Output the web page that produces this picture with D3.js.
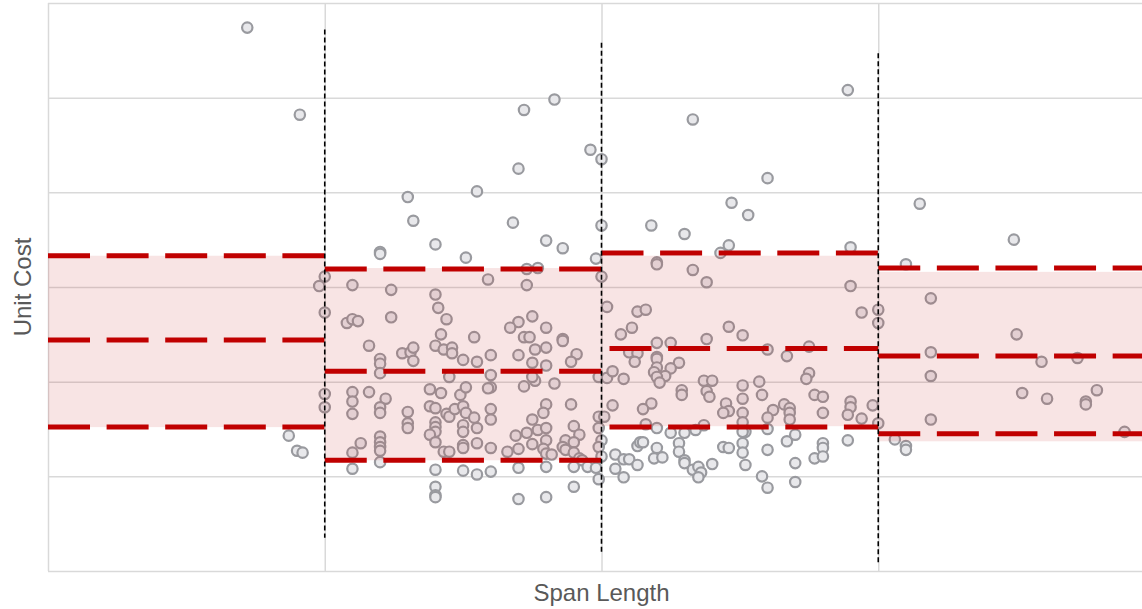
<!DOCTYPE html>
<html>
<head>
<meta charset="utf-8">
<script src="https://cdn.jsdelivr.net/npm/d3@7"></script>
<style>
  body { margin: 0; background: #fff; }
  svg { display: block; }
  .grid line { stroke: #d9d9d9; stroke-width: 1.5; }
  .grid .domain { display: none; }
  .axis-title { font-family: "Liberation Sans", Arial, sans-serif; fill: #595959; font-size: 24px; }
</style>
</head>
<body>
<svg id="chart" width="1142" height="609"></svg>
<script>
/* =========================
   DATA
========================= */
const xTicks = [0, 100, 200, 300, 400];
const yTicks = [0, 100, 200, 300, 400, 500, 600];

// span segments and their cost bands
const segStart = [0, 100, 200, 300];
const segEnd = [100, 200, 300, 400];
const upperLine = [333, 319, 336, 320];
const midLine = [244, 211, 235, 227];
const lowerLine = [152, 117, 152, 145];
const bandTop = [333, 320, 333, 316];
const bandBottom = [152, 117, 153, 137];

// segment break markers
const breakX = [100, 200, 300];
const breakTop = [572, 558, 547];
const breakBottom = [35, 18, 9];

// [span length, unit cost]
const seg1Points = [
  [72, 574], [91, 482], [87, 143], [90, 127], [92, 125], [98, 301],
  [100, 311], [100, 273], [100, 187], [100, 173]
];

const seg2Points = [
  [130, 395], [132, 370], [155, 401], [168, 368], [170, 425], [172, 487],
  [183, 498], [196, 445], [200, 435], [200, 365],
  [120, 337], [120, 335], [140, 345], [151, 331], [110, 302], [124, 297],
  [140, 292], [141, 278], [144, 266], [124, 268], [108, 262], [110, 266],
  [112, 264], [142, 250], [140, 238], [143, 234], [146, 236], [146, 230],
  [116, 238], [128, 230], [131, 231], [132, 236], [132, 222], [120, 224],
  [120, 219], [120, 209], [145, 205], [150, 223], [138, 192], [142, 188],
  [149, 186], [151, 194], [110, 189], [110, 179], [110, 166], [116, 189],
  [122, 182], [120, 173], [120, 167], [130, 168], [130, 156], [130, 151],
  [138, 174], [140, 172], [144, 166], [145, 163], [147, 171], [150, 174],
  [151, 167], [140, 157], [140, 152], [140, 147], [138, 144], [140, 136],
  [150, 154], [150, 147], [150, 133], [150, 130], [120, 142], [120, 136],
  [120, 131], [120, 127], [113, 135], [110, 125], [143, 126], [145, 126],
  [120, 115], [110, 108], [140, 107], [150, 106], [140, 89], [140, 80],
  [140, 78],
  [180, 349], [186, 341], [198, 330], [200, 311], [173, 319], [177, 320],
  [159, 308], [173, 302], [175, 269], [170, 263], [167, 257], [180, 257],
  [172, 247], [174, 247], [186, 245], [186, 243], [154, 247], [176, 234],
  [180, 236], [170, 228], [175, 220], [180, 217], [160, 228], [155, 221],
  [191, 229], [189, 221], [160, 207], [160, 194], [159, 193], [172, 195],
  [176, 201], [175, 205], [183, 198], [199, 205], [202, 204], [189, 176],
  [180, 176], [179, 167], [175, 160], [160, 171], [160, 160], [154, 162],
  [155, 151], [155, 135], [160, 130], [166, 126], [170, 129], [169, 143],
  [173, 146], [175, 134], [177, 149], [180, 151], [180, 138], [179, 129],
  [180, 124], [182, 123], [187, 138], [190, 153], [192, 144], [190, 136],
  [186, 131], [187, 128], [190, 125], [192, 119], [193, 117], [195, 110],
  [198, 109], [199, 163], [199, 151], [200, 138], [199, 131], [200, 121],
  [199, 97], [155, 102], [160, 105], [170, 109], [180, 110], [190, 110],
  [190, 89], [170, 76], [180, 78]
];

const seg3Points = [
  [220, 326], [220, 324], [233, 318], [238, 305], [246, 344], [243, 336],
  [202, 279], [213, 274], [216, 276], [207, 250], [211, 257], [210, 231],
  [213, 230], [212, 221], [220, 241], [225, 241], [238, 245], [246, 258],
  [220, 226], [220, 224], [220, 215], [228, 220], [225, 214], [223, 206],
  [219, 210], [220, 205], [221, 199], [204, 211], [208, 203], [237, 201],
  [240, 201], [229, 191], [229, 186], [238, 190], [239, 184], [204, 175],
  [218, 177], [215, 171], [245, 177], [246, 169], [244, 167], [201, 163],
  [216, 155], [220, 151], [225, 146], [230, 146], [234, 149], [237, 154],
  [213, 132], [214, 136], [215, 136], [228, 135], [220, 130], [228, 126],
  [244, 131], [246, 130], [205, 123], [208, 118], [210, 118], [219, 119],
  [222, 120], [230, 117], [230, 114], [213, 112], [205, 108], [208, 99],
  [233, 107], [235, 110], [236, 104], [235, 99], [240, 113],
  [218, 365], [230, 356], [233, 477], [247, 389], [253, 376], [260, 415],
  [289, 508],
  [290, 342], [290, 301], [294, 273], [300, 276], [300, 262], [251, 249],
  [260, 234], [267, 227], [275, 237], [275, 209], [274, 203], [257, 200],
  [258, 186], [251, 196], [251, 182], [251, 167], [251, 157], [262, 170],
  [266, 176], [268, 172], [268, 167], [268, 160], [260, 162], [277, 186],
  [280, 184], [280, 167], [290, 179], [290, 173], [289, 165], [294, 161],
  [298, 175], [300, 156], [260, 150], [252, 147], [251, 147], [251, 135],
  [251, 125], [252, 112], [260, 128], [267, 137], [270, 144], [270, 114],
  [270, 94], [258, 100], [260, 88], [277, 119], [280, 135], [280, 130],
  [280, 121], [289, 138]
];

const seg4Points = [
  [310, 324], [315, 388], [349, 350], [319, 288], [319, 231], [319, 206],
  [319, 160], [350, 250], [359, 221], [372, 225], [352, 188], [361, 182],
  [375, 179], [375, 176], [379, 191], [389, 147], [306, 139], [310, 132],
  [310, 128]
];

/* =========================
   SETUP
========================= */
const svg = d3.select("#chart");

const x = d3.scaleLinear().domain([0, 400]).range([48, 1155]);
const y = d3.scaleLinear().domain([0, 600]).range([571, 3]);

const plotTop = y(600);
const plotBottom = y(0);

/* ===== GRID ===== */
svg.append("g")
  .attr("class", "grid")
  .attr("transform", `translate(0,${plotBottom})`)
  .call(d3.axisBottom(x).tickValues(xTicks).tickSize(-(plotBottom - plotTop)).tickFormat(""));

svg.append("g")
  .attr("class", "grid")
  .attr("transform", `translate(${x(0)},0)`)
  .call(d3.axisLeft(y).tickValues(yTicks).tickSize(-(x(400) - x(0))).tickFormat(""));

/* ===== POINTS ===== */
const allPoints = seg1Points.concat(seg2Points, seg3Points, seg4Points);

svg.append("g")
  .selectAll("circle")
  .data(allPoints)
  .join("circle")
  .attr("cx", (d) => x(d[0]))
  .attr("cy", (d) => y(d[1]))
  .attr("r", 5.2)
  .attr("fill", "#e8e8eb")
  .attr("stroke", "#999a9f")
  .attr("stroke-width", 2.2);

/* ===== BANDS (drawn over the points) ===== */
svg.append("g")
  .selectAll("rect")
  .data(segStart)
  .join("rect")
  .attr("x", (d) => x(d))
  .attr("width", (d, i) => x(segEnd[i]) - x(d))
  .attr("y", (d, i) => y(bandTop[i]))
  .attr("height", (d, i) => y(bandBottom[i]) - y(bandTop[i]))
  .attr("fill", "rgb(200,30,30)")
  .attr("fill-opacity", 0.12);

/* ===== DASHED LEVEL LINES ===== */
const levels = [upperLine, midLine, lowerLine];
const dashPeriod = 58.6;

levels.forEach((level, li) => {
  svg.append("g")
    .selectAll("line")
    .data(segStart)
    .join("line")
    .attr("x1", (d) => x(d))
    .attr("x2", (d, i) => x(segEnd[i]))
    .attr("y1", (d, i) => y(level[i]))
    .attr("y2", (d, i) => y(level[i]))
    .attr("stroke", "#c00000")
    .attr("stroke-width", 5)
    .attr("stroke-dasharray", "42,16.6")
    // third segment's middle/lower lines start with a short gap
    .attr("stroke-dashoffset", (d, i) => (i === 2 && li > 0 ? dashPeriod - 8 : 0));
});

/* ===== SEGMENT BREAKS ===== */
svg.append("g")
  .selectAll("line")
  .data(breakX)
  .join("line")
  .attr("x1", (d) => x(d))
  .attr("x2", (d) => x(d))
  .attr("y1", (d, i) => y(breakTop[i]))
  .attr("y2", (d, i) => y(breakBottom[i]))
  .attr("stroke", "#000")
  .attr("stroke-width", 1.6)
  .attr("stroke-dasharray", "5,3");

/* ===== AXIS TITLES ===== */
svg.append("text")
  .attr("class", "axis-title")
  .attr("x", x(200))
  .attr("y", 601)
  .attr("text-anchor", "middle")
  .text("Span Length");

svg.append("text")
  .attr("class", "axis-title")
  .attr("transform", `translate(31,${(plotTop + plotBottom) / 2}) rotate(-90)`)
  .attr("text-anchor", "middle")
  .text("Unit Cost");
</script>
</body>
</html>
